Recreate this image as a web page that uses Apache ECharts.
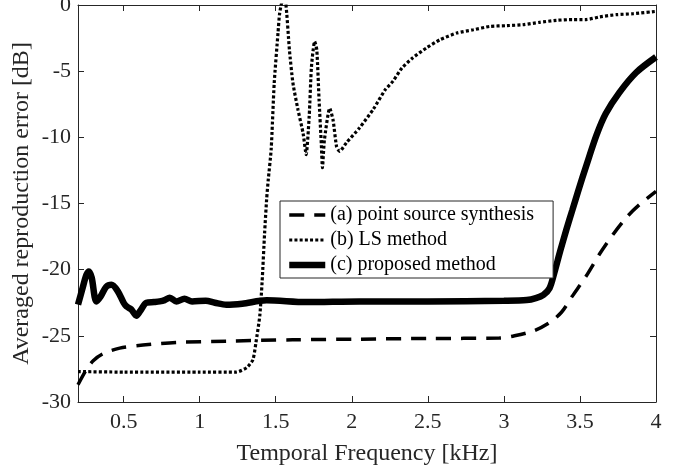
<!DOCTYPE html>
<html>
<head>
<meta charset="utf-8">
<script src="https://cdn.jsdelivr.net/npm/echarts@6/dist/echarts.min.js"></script>
<style>
html, body { margin: 0; padding: 0; background: #fff; }
#main { width: 688px; height: 469px; }
</style>
</head>
<body>
<div id="main"></div>
<script>
// tick labels
var xTicks = [0.5, 1, 1.5, 2, 2.5, 3, 3.5, 4];
var seriesNames = ['(a) point source synthesis', '(b) LS method', '(c) proposed method'];

// (a) point source synthesis
var freqA = [0.2, 0.255, 0.3, 0.364, 0.474, 0.627, 0.847, 1.175, 1.61, 2.05, 2.5, 2.97, 3.07, 3.2, 3.3, 3.38, 3.45, 3.54, 3.63, 3.72, 3.81, 3.89, 4.0];
var errA = [-28.7, -27.56, -26.88, -26.35, -25.93, -25.7, -25.5, -25.4, -25.3, -25.25, -25.2, -25.17, -25.0, -24.6, -24.0, -23.2, -22.0, -20.5, -18.8, -17.3, -16.0, -15.1, -14.08];

// (b) LS method
var freqB = [0.2, 0.5, 1.0, 1.24, 1.31, 1.35, 1.37, 1.395, 1.41, 1.427, 1.44, 1.45, 1.47, 1.49, 1.515, 1.526, 1.545, 1.565, 1.59, 1.613, 1.646, 1.68, 1.70, 1.72, 1.735, 1.756, 1.77, 1.785, 1.80, 1.807, 1.82, 1.855, 1.877, 1.9, 1.92, 1.965, 2.05, 2.14, 2.22, 2.27, 2.33, 2.4, 2.49, 2.58, 2.69, 2.8, 2.906, 3.02, 3.126, 3.235, 3.345, 3.45, 3.54, 3.63, 3.74, 3.85, 4.0];
var errB = [-27.7, -27.74, -27.74, -27.74, -27.4, -26.8, -25.5, -23.5, -21.0, -17.2, -14.7, -13.3, -10.9, -5.9, -2.1, -0.6, 0.3, 0.2, -3.4, -5.9, -7.9, -9.7, -11.3, -8.4, -4.64, -2.75, -3.4, -7.2, -10.6, -12.3, -10.2, -7.8, -8.7, -10.7, -11.06, -10.4, -9.3, -7.9, -6.4, -5.77, -4.76, -4.0, -3.25, -2.62, -2.12, -1.87, -1.62, -1.56, -1.49, -1.31, -1.16, -1.1, -1.1, -0.9, -0.73, -0.66, -0.48];

// (c) proposed method
var freqC = [0.2, 0.23, 0.255, 0.272, 0.29, 0.321, 0.35, 0.385, 0.42, 0.46, 0.5, 0.518, 0.55, 0.584, 0.61, 0.65, 0.7, 0.737, 0.77, 0.803, 0.847, 0.9, 0.95, 1.04, 1.1, 1.175, 1.28, 1.44, 1.7, 2.05, 2.5, 3.0, 3.15, 3.21, 3.26, 3.30, 3.33, 3.37, 3.41, 3.45, 3.49, 3.54, 3.61, 3.67, 3.76, 3.87, 4.0];
var errC = [-22.65, -21.4, -20.4, -20.13, -20.6, -22.4, -22.0, -21.3, -21.14, -21.6, -22.5, -22.77, -23.0, -23.48, -23.1, -22.5, -22.45, -22.4, -22.3, -22.12, -22.4, -22.2, -22.4, -22.35, -22.5, -22.65, -22.57, -22.32, -22.45, -22.4, -22.4, -22.35, -22.3, -22.15, -21.9, -21.4, -20.3, -18.6, -17.0, -15.5, -14.0, -12.2, -9.8, -8.2, -6.6, -5.1, -3.93];

function pairs(xs, ys) {
  return xs.map(function (x, i) { return [x, ys[i]]; });
}

var font = "'Liberation Serif', 'Times New Roman', serif";
var ink = '#262626';

var styleA = { color: '#000', width: 3.5, type: [15, 10], cap: 'butt' };
var styleB = { color: '#000', width: 3.2, type: [3, 2.2], cap: 'butt' };
var styleC = { color: '#000', width: 6.5 };

var chartDom = document.getElementById('main');
var myChart = echarts.init(chartDom, null, { renderer: 'canvas' });

var option = {
  animation: false,
  backgroundColor: '#ffffff',
  grid: { left: 78, right: 32, top: 5, bottom: 67, outerBoundsMode: 'none' },
  legend: {
    orient: 'vertical',
    left: 280,
    top: 201,
    padding: [4, 19, 3, 6],
    itemGap: 5,
    itemWidth: 36,
    itemHeight: 14,
    backgroundColor: '#ffffff',
    borderColor: ink,
    borderWidth: 1,
    itemStyle: { opacity: 0 },
    textStyle: { fontFamily: font, fontSize: 20, color: '#000', lineHeight: 20 },
    data: [
      { name: seriesNames[0], lineStyle: styleA, itemStyle: { opacity: 0 } },
      { name: seriesNames[1], lineStyle: styleB, itemStyle: { opacity: 0 } },
      { name: seriesNames[2], lineStyle: styleC, itemStyle: { opacity: 0 } }
    ]
  },
  xAxis: [
    {
      type: 'value',
      min: 0.2,
      max: 4,
      name: 'Temporal Frequency [kHz]',
      nameLocation: 'middle',
      nameGap: 40,
      nameMoveOverlap: false,
      nameTextStyle: { fontFamily: font, fontSize: 24, color: ink },
      axisLine: { show: true, onZero: false, lineStyle: { color: ink, width: 1 } },
      axisTick: { show: true, inside: true, length: 6, customValues: xTicks, lineStyle: { color: ink } },
      axisLabel: { fontFamily: font, fontSize: 22, color: ink, margin: 9, customValues: xTicks },
      splitLine: { show: false }
    },
    {
      type: 'value',
      position: 'top',
      min: 0.2,
      max: 4,
      axisLine: { show: true, onZero: false, lineStyle: { color: ink, width: 1 } },
      axisTick: { show: true, inside: true, length: 6, customValues: xTicks, lineStyle: { color: ink } },
      axisLabel: { show: false },
      splitLine: { show: false }
    }
  ],
  yAxis: [
    {
      type: 'value',
      min: -30,
      max: 0,
      interval: 5,
      name: 'Averaged reproduction error [dB]',
      nameLocation: 'middle',
      nameGap: 44,
      nameMoveOverlap: false,
      nameTextStyle: { fontFamily: font, fontSize: 24, color: ink },
      axisLine: { show: true, onZero: false, lineStyle: { color: ink, width: 1 } },
      axisTick: { show: true, inside: true, length: 6, lineStyle: { color: ink } },
      axisLabel: { fontFamily: font, fontSize: 22, color: ink, margin: 7 },
      splitLine: { show: false }
    },
    {
      type: 'value',
      position: 'right',
      min: -30,
      max: 0,
      interval: 5,
      axisLine: { show: true, onZero: false, lineStyle: { color: ink, width: 1 } },
      axisTick: { show: true, inside: true, length: 6, lineStyle: { color: ink } },
      axisLabel: { show: false },
      splitLine: { show: false }
    }
  ],
  series: [
    {
      name: seriesNames[0],
      type: 'line',
      data: pairs(freqA, errA),
      symbol: 'none',
      smooth: 0.3,
      clip: true,
      color: '#000',
      lineStyle: styleA
    },
    {
      name: seriesNames[1],
      type: 'line',
      data: pairs(freqB, errB),
      symbol: 'none',
      smooth: 0.2,
      clip: true,
      color: '#000',
      lineStyle: styleB
    },
    {
      name: seriesNames[2],
      type: 'line',
      data: pairs(freqC, errC),
      symbol: 'none',
      smooth: 0.3,
      clip: true,
      color: '#000',
      lineStyle: styleC
    }
  ]
};

myChart.setOption(option);
</script>
</body>
</html>
